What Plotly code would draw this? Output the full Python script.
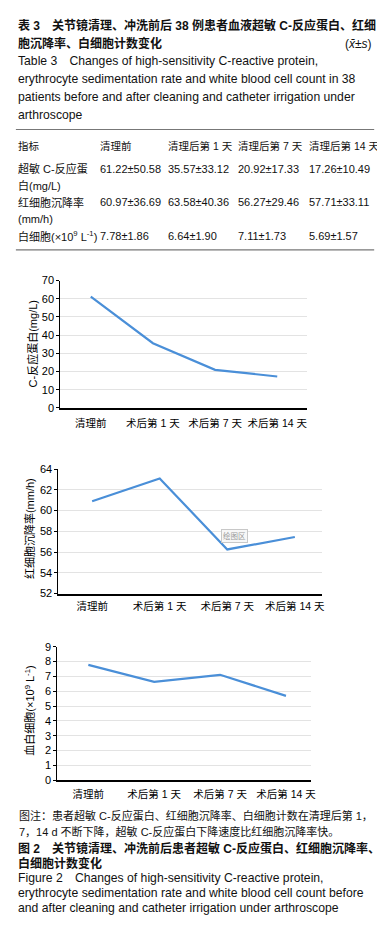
import plotly.graph_objects as go

W, H = 385, 940

# ---------------- data ----------------
categories = ["清理前", "术后第 1 天", "术后第 7 天", "术后第 14 天"]
crp_values = [61.22, 35.57, 20.92, 17.26]
esr_values = [60.9, 63.1, 56.25, 57.45]
wbc_values = [7.78, 6.64, 7.11, 5.69]

table_header = ["指标", "清理前", "清理后第 1 天", "清理后第 7 天", "清理后第 14 天"]
table_rows = [
    ["超敏 C-反应蛋<br>白(mg/L)", "61.22±50.58", "35.57±33.12", "20.92±17.33", "17.26±10.49"],
    ["红细胞沉降率<br>(mm/h)", "60.97±36.69", "63.58±40.36", "56.27±29.46", "57.71±33.11"],
    ["白细胞(×10<sup>9</sup> L<sup>-1</sup>)", "7.78±1.86", "6.64±1.90", "7.11±1.73", "5.69±1.57"],
]

FONT = "Liberation Sans, Arial, Noto Sans CJK SC, sans-serif"
LINE_COLOR = "#4a8fd8"
GRID = "#e3e3e3"


def px(x):
    return x / W


def py(y):
    return 1 - y / H


fig = go.Figure()

charts = [
    dict(vals=crp_values, ax="", dom_x=(53, 303), dom_y=(270, 399), yr=[0, 70], dt=10, xr=[-0.49, 3.48],
         title="C-反应蛋白(mg/L)", tx=25, ty=334, so=5),
    dict(vals=esr_values, ax="2", dom_x=(51, 318), dom_y=(461, 587), yr=[52, 64], dt=2, xr=[-0.5, 3.4],
         title="红细胞沉降率(mm/h)", tx=22, ty=521, so=2),
    dict(vals=wbc_values, ax="3", dom_x=(50, 307), dom_y=(641, 776), yr=[0, 9], dt=1, xr=[-0.47, 3.38],
         title="血白细胞(×10<sup>9</sup> L<sup>-1</sup>)", tx=22, ty=706, so=4),
]

layout_axes = {}
annotations = []
for c in charts:
    a = c["ax"]
    fig.add_trace(go.Scatter(
        x=categories, y=c["vals"], mode="lines",
        line=dict(color=LINE_COLOR, width=2.2),
        xaxis="x" + a, yaxis="y" + a, showlegend=False, hoverinfo="skip",
    ))
    layout_axes["xaxis" + a] = dict(
        domain=[px(c["dom_x"][0]), px(c["dom_x"][1])],
        anchor="y" + a, type="category", range=c["xr"],
        showline=True, linecolor="black", linewidth=1.5,
        showgrid=False, ticks="", zeroline=False,
        tickfont=dict(family=FONT, size=10.5, color="black"),
        ticklabelstandoff=c["so"],
        fixedrange=True,
    )
    layout_axes["yaxis" + a] = dict(
        domain=[py(c["dom_y"][1]), py(c["dom_y"][0])],
        anchor="x" + a, range=c["yr"], dtick=c["dt"], tick0=0,
        showline=True, linecolor="black", linewidth=1,
        showgrid=True, gridcolor=GRID, gridwidth=1,
        ticks="outside", ticklen=3, tickcolor="black", tickwidth=1,
        zeroline=False,
        tickfont=dict(family=FONT, size=11, color="black"),
        fixedrange=True,
    )
    annotations.append(dict(
        text=c["title"], x=px(c["tx"]), y=py(c["ty"]), xref="paper", yref="paper",
        textangle=-90, showarrow=False, xanchor="center", yanchor="middle",
        font=dict(family=FONT, size=11, color="black"),
    ))

# "绘图区" hint box
annotations.append(dict(
    text="绘图区", x=px(229), y=py(529), xref="paper", yref="paper", showarrow=False,
    xanchor="center", yanchor="middle", font=dict(family=FONT, size=7.5, color="#9a9a9a"),
    bgcolor="#f7f7f7", bordercolor="#c8c8c8", borderwidth=1, borderpad=1,
))


def txt(s, x, y, size=12, bold=False, anchor="left", color="#111111"):
    annotations.append(dict(
        text=("<b>%s</b>" % s) if bold else s, x=px(x), y=py(y), xref="paper", yref="paper",
        showarrow=False, xanchor=anchor, yanchor="middle", align="left",
        font=dict(family=FONT, size=size, color=color),
    ))


# ---------------- table title ----------------
txt("表 3　关节镜清理、冲洗前后 38 例患者血液超敏 C-反应蛋白、红细", 8, 12, 12, True)
txt("胞沉降率、白细胞计数变化", 8, 30, 12, True)
txt("(<i>x̄</i>±<i>s</i>)", 371, 30, 12, False, anchor="right")
txt("Table 3　Changes of high-sensitivity C-reactive protein,", 8, 48, 12.2)
txt("erythrocyte sedimentation rate and white blood cell count in 38", 8, 66, 12.2)
txt("patients before and after cleaning and catheter irrigation under", 8, 84, 12.2)
txt("arthroscope", 8, 102, 12.2)

# ---------------- table ----------------
col_x = [8, 91, 160, 231, 303]
for i, h in enumerate(table_header):
    txt(h, col_x[i], 134, 10.5)
row_y = [165, 199, 225]
for r, row in enumerate(table_rows):
    for i, cell in enumerate(row):
        if i == 0:
            lines = cell.split("<br>")
            if len(lines) == 2:
                txt(lines[0], col_x[0], row_y[r] - 8.5, 11)
                txt(lines[1], col_x[0], row_y[r] + 8.5, 11)
            else:
                txt(cell, col_x[0], row_y[r], 11)
        else:
            yy = row_y[r] - 8.5 if r < 2 else row_y[r]
            txt(cell, col_x[i], yy, 11)

shapes = [
    dict(type="line", xref="paper", yref="paper", x0=px(8), x1=px(371), y0=py(117), y1=py(117),
         line=dict(color="#777777", width=1.2)),
    dict(type="line", xref="paper", yref="paper", x0=px(8), x1=px(371), y0=py(239), y1=py(239),
         line=dict(color="#777777", width=1.2)),
]

# ---------------- figure caption ----------------
txt("图注：患者超敏 C-反应蛋白、红细胞沉降率、白细胞计数在清理后第 1，", 9, 812, 11)
txt("7，14 d 不断下降，超敏 C-反应蛋白下降速度比红细胞沉降率快。", 9, 828, 11)
txt("图 2　关节镜清理、冲洗前后患者超敏 C-反应蛋白、红细胞沉降率、", 8, 845, 12, True)
txt("白细胞计数变化", 8, 860, 12, True)
txt("Figure 2　Changes of high-sensitivity C-reactive protein,", 8, 875, 12.2)
txt("erythrocyte sedimentation rate and white blood cell count before", 8, 890, 12.2)
txt("and after cleaning and catheter irrigation under arthroscope", 8, 906, 12.2)

fig.update_layout(
    width=W, height=H, margin=dict(l=0, r=0, t=0, b=0),
    paper_bgcolor="white", plot_bgcolor="white",
    annotations=annotations, shapes=shapes,
    font=dict(family=FONT),
    **layout_axes,
)

fig.write_html("out.html", config={"displayModeBar": False})
